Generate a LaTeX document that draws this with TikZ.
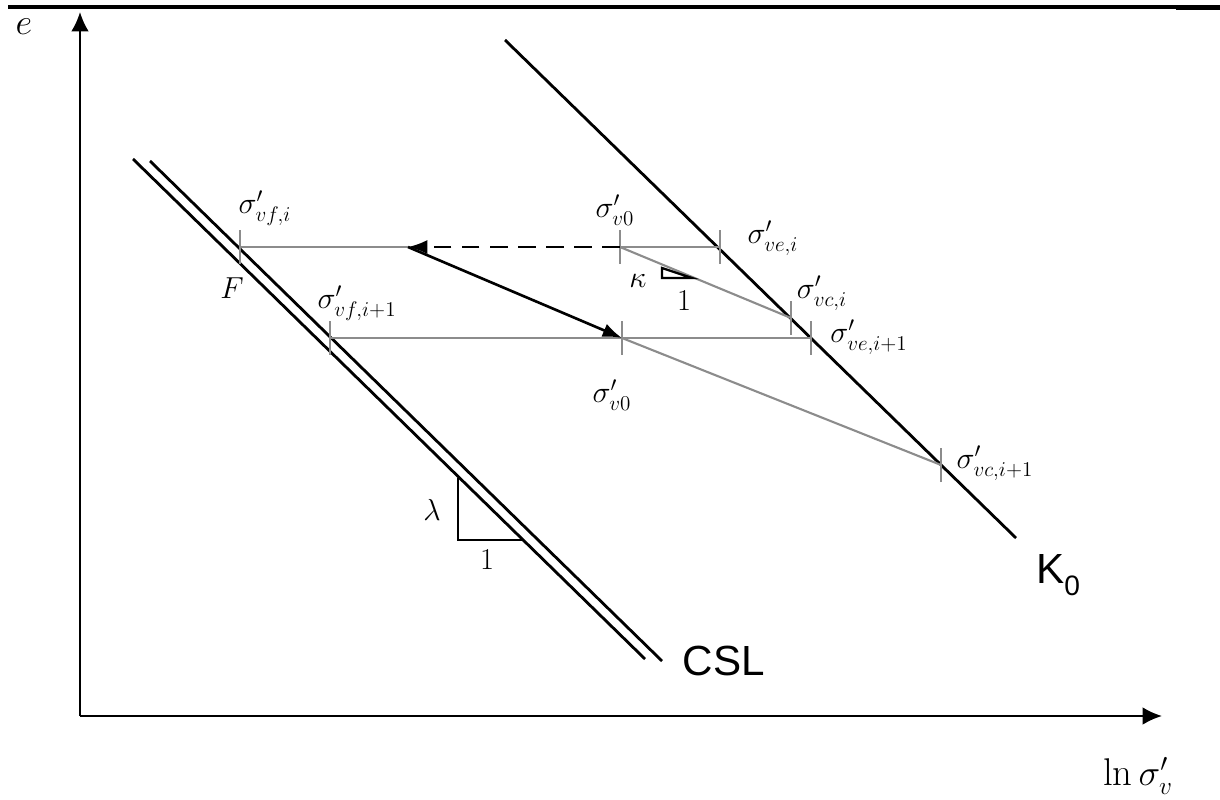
\documentclass[tikz,border=0pt]{standalone}
\usepackage{fontspec}
\setsansfont{Liberation Sans}
\usetikzlibrary{arrows.meta}
\definecolor{lg}{RGB}{140,140,140}
\begin{document}
\begin{tikzpicture}[x=0.02cm,y=-0.02cm,
  blk/.style={line width=1.6pt},
  gr/.style={draw=lg,line width=1.2pt},
  ax/.style={line width=1.2pt,-{Latex[length=11pt,width=10pt]}},
  arr/.style={line width=1.5pt,-{Latex[length=11pt,width=8pt]}},
  lab/.style={inner sep=0pt,font=\fontsize{17}{20}\selectfont},
  big/.style={inner sep=0pt,font=\fontsize{22}{26}\selectfont},
  sf/.style={inner sep=0pt,font=\fontsize{24}{28}\selectfont\sffamily},
  tri/.style={line width=1.3pt}
]
\useasboundingbox (0,0) rectangle (1220,800);
% top rule
\fill (8,5.5) rectangle (1220,8.6);
\fill (1176,5.5) rectangle (1220,10);
% points
\coordinate (O) at (80,716);
\coordinate (Ytip) at (80,12);
\coordinate (Xtip) at (1162,716);
\coordinate (K0a) at (505,40);
\coordinate (K0b) at (1016,538);
\coordinate (C1a) at (133,159);
\coordinate (C1b) at (645,659);
\coordinate (C2a) at (150,161);
\coordinate (C2b) at (662,661);
\coordinate (A) at (240,247);
\coordinate (B) at (408,247);
\coordinate (C) at (620,247);
\coordinate (D) at (720,247);
\coordinate (E) at (791,318);
\coordinate (G) at (330,338);
\coordinate (H) at (622,338);
\coordinate (I) at (811,338);
\coordinate (J) at (941,465);
% axes
\draw[ax] (O) -- (Ytip);
\draw[ax] (O) -- (Xtip);
% K0 and CSL
\draw[blk] (K0a) -- (K0b);
\draw[blk] (C1a) -- (C1b);
\draw[blk] (C2a) -- (C2b);
% gray lines
\draw[gr] (A) -- (B);
\draw[gr] (C) -- (D);
\draw[gr] (G) -- (I);
\draw[gr] (C) -- (E);
\draw[gr] (H) -- (J);
% ticks
\foreach \p in {A,C,D,E,G,H,I,J}
  \draw[gr] ([yshift=-17*0.02cm]\p) -- ([yshift=17*0.02cm]\p);
% arrows
\draw[arr,dash pattern=on 10pt off 6pt] (C) -- (B);
\draw[arr] (B) -- (H);
% slope triangles
\draw[tri] (662,268) -- (662,278) -- (692,278) -- cycle;
\draw[tri] (458,478) -- (458,540) -- (523,540);
% labels
\node[big] (le) at (24,27) {$e$};
\node[big] (lx) at (1138,776) {$\ln\sigma'_v$};
\node[sf] (lcsl) at (724,661) {CSL};
\node[sf] (lk0) at (1058,575) {K\raisebox{-0.3em}{\fontsize{16}{19}\selectfont 0}};
\node[lab] (l1) at (265,208) {$\sigma'_{vf,i}$};
\node[lab] (lF) at (232,288) {$F$};
\node[lab] (l2) at (357,303) {$\sigma'_{vf,i+1}$};
\node[lab] (l3) at (615,210) {$\sigma'_{v0}$};
\node[lab] (l4) at (773,238) {$\sigma'_{ve,i}$};
\node[lab] (lk) at (638,281) {$\kappa$};
\node[lab] (lk1) at (684,301) {$1$};
\node[lab] (l5) at (822,293) {$\sigma'_{vc,i}$};
\node[lab] (l6) at (869,337) {$\sigma'_{ve,i+1}$};
\node[lab] (l7) at (612,395) {$\sigma'_{v0}$};
\node[lab] (l8) at (995,463) {$\sigma'_{vc,i+1}$};
\node[lab] (ll) at (432,510) {$\lambda$};
\node[lab] (ll1) at (487,560) {$1$};
\end{tikzpicture}
\end{document}
